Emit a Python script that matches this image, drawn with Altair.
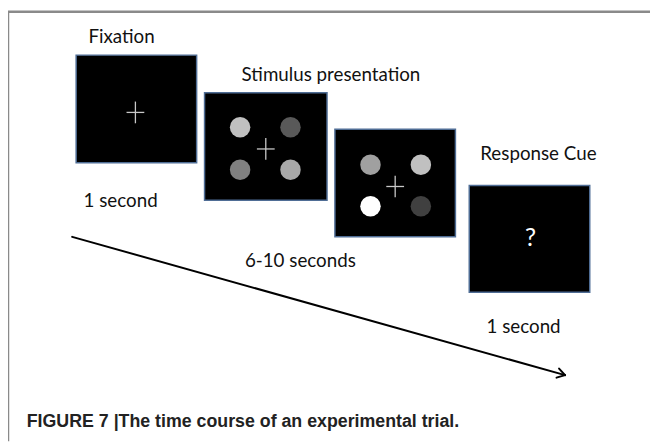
import altair as alt
import pandas as pd
import math

W, H = 650, 436

# Screens (panels) of the trial: left, right, top, bottom (pixel-space diagram coords)
box_names = ["fix", "stim1", "stim2", "resp"]
box_x0 = [77, 207, 339, 475]
box_x1 = [199, 331, 461, 597]
box_y0 = [53, 91, 128, 185]
box_y1 = [162, 200, 237, 293]

# Fixation crosses
cross_x = [137, 269, 400]
cross_y = [111, 148, 186]
cross_half = 9

# Stimulus discs
disc_x = [243, 294, 243, 294, 375, 426, 375, 426]
disc_y = [126, 126, 169, 169, 164, 164, 206, 206]
disc_col = ["#c0c0c0", "#595959", "#808080", "#a8a8a8",
            "#a0a0a0", "#c0c0c0", "#ffffff", "#404040"]

# Labels
lab_text = ["Fixation", "Stimulus presentation", "Response Cue",
            "1 second", "6-10 seconds", "1 second"]
lab_x = [123, 335, 545, 122, 304, 530]
lab_y = [35, 73, 153, 201, 262, 328]

caption = "FIGURE 7 |The time course of an experimental trial."

# Time arrow
arrow_x = [73, 572]
arrow_y = [237, 377]

xs = alt.Scale(domain=[8, 658], nice=False, zero=False)
ys = alt.Scale(domain=[8, 444], nice=False, zero=False, reverse=True)


def X(f="x"):
    return alt.X(f"{f}:Q", scale=xs, axis=None)


def Y(f="y"):
    return alt.Y(f"{f}:Q", scale=ys, axis=None)


frame = pd.DataFrame({"x": [8, 8], "x2": [658, 8], "y": [9, 9], "y2": [9, 444]})
frame_l = alt.Chart(frame).mark_rule(color="#8a8a8a", strokeWidth=2.5).encode(
    x=X(), x2="x2:Q", y=Y(), y2="y2:Q")

boxes = pd.DataFrame({"n": box_names, "x": box_x0, "x2": box_x1, "y": box_y0, "y2": box_y1})
box_l = alt.Chart(boxes).mark_rect(fill="black", stroke="#4f6d95", strokeWidth=1.5).encode(
    x=X(), x2="x2:Q", y=Y(), y2="y2:Q")

cr = []
for cx, cy in zip(cross_x, cross_y):
    cr.append({"x": cx - cross_half, "x2": cx + cross_half, "y": cy, "y2": cy})
    cr.append({"x": cx, "x2": cx, "y": cy - cross_half - 2, "y2": cy + cross_half + 2})
cross_l = alt.Chart(pd.DataFrame(cr)).mark_rule(color="#c8c8c8", strokeWidth=1.3).encode(
    x=X(), x2="x2:Q", y=Y(), y2="y2:Q")

discs = pd.DataFrame({"x": disc_x, "y": disc_y, "c": disc_col})
disc_l = alt.Chart(discs).mark_circle(size=430, opacity=1).encode(
    x=X(), y=Y(), color=alt.Color("c:N", scale=None))

labs = pd.DataFrame({"t": lab_text, "x": lab_x, "y": lab_y})
lab_l = alt.Chart(labs).mark_text(font="Lato", fontSize=19, color="#111111",
                                  align="center", baseline="middle").encode(
    x=X(), y=Y(), text="t:N")

q = pd.DataFrame({"t": ["?"], "x": [537], "y": [238]})
q_l = alt.Chart(q).mark_text(font="Lato", fontSize=25, color="white",
                             align="center", baseline="middle").encode(
    x=X(), y=Y(), text="t:N")

cap = pd.DataFrame({"t": [caption], "x": [27], "y": [424]})
cap_l = alt.Chart(cap).mark_text(font="Liberation Sans", fontSize=18, fontWeight="bold",
                                 color="#222222", align="left", baseline="middle").encode(
    x=X(), y=Y(), text="t:N")

# Arrow shaft and open V head
ang = math.atan2(arrow_y[1] - arrow_y[0], arrow_x[1] - arrow_x[0])
wing_len, wing_ang = 9, math.radians(32)
segs = [{"x": arrow_x[0], "x2": arrow_x[1], "y": arrow_y[0], "y2": arrow_y[1]}]
for s in (1, -1):
    a = ang + math.pi + s * wing_ang
    segs.append({"x": arrow_x[1], "x2": arrow_x[1] + wing_len * math.cos(a),
                 "y": arrow_y[1], "y2": arrow_y[1] + wing_len * math.sin(a)})
arr_l = alt.Chart(pd.DataFrame(segs)).mark_rule(color="black", strokeWidth=2, strokeCap="round").encode(
    x=X(), x2="x2:Q", y=Y(), y2="y2:Q")

chart = alt.layer(frame_l, box_l, cross_l, disc_l, lab_l, q_l, cap_l, arr_l).properties(
    width=W, height=H, padding=0, autosize=alt.AutoSizeParams(type="none"),
    background="white"
).configure_view(stroke=None)

chart.save("out.html", embed_options={"renderer": "svg", "actions": False})
